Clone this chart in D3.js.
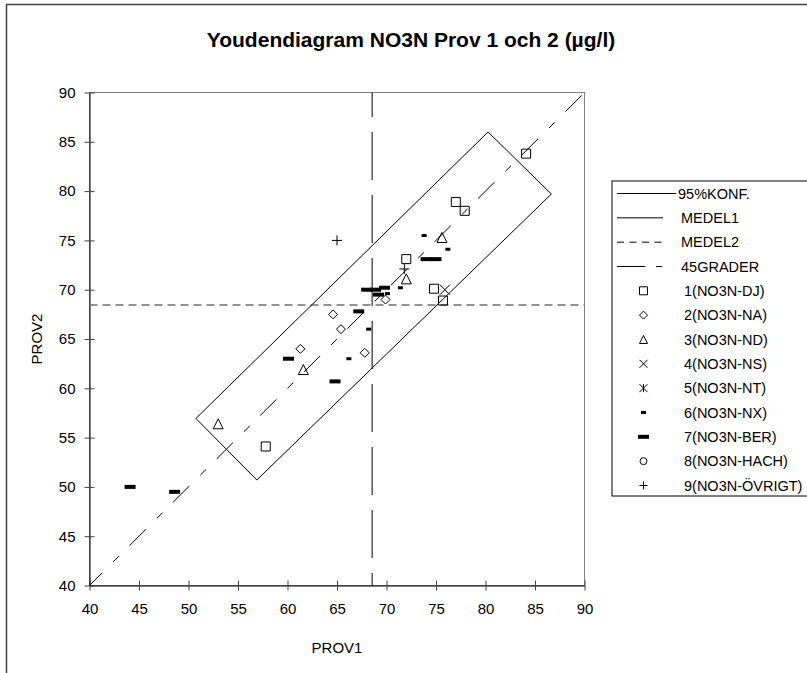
<!DOCTYPE html>
<html>
<head>
<meta charset="utf-8">
<script src="https://cdn.jsdelivr.net/npm/d3@7"></script>
<style>
  html, body { margin: 0; padding: 0; background: #fff; }
  svg { display: block; }
  text { font-family: Arial, "Liberation Sans", sans-serif; fill: #000; }
</style>
</head>
<body>
<svg id="chart" width="807" height="673"></svg>
<script>
// ---- data -------------------------------------------------------------
const xTicks = [40, 45, 50, 55, 60, 65, 70, 75, 80, 85, 90];
const yTicks = [40, 45, 50, 55, 60, 65, 70, 75, 80, 85, 90];

const medel1 = 68.55;   // mean of PROV1
const medel2 = 68.45;   // mean of PROV2
const line45 = [[40, 40], [90, 90]];
// 95 % confidence box corners (PROV1, PROV2)
const konf = [[56.9, 50.7], [86.65, 79.7], [80.26, 86.0], [50.75, 56.94], [56.9, 50.7]];

const dj   = [[84.1, 83.8], [77.0, 78.9], [77.9, 78.0], [72.0, 73.1], [74.8, 70.1], [75.7, 68.9], [57.8, 54.1]];
const na   = [[69.9, 69.0], [64.6, 67.5], [65.4, 66.0], [61.3, 64.0], [67.8, 63.6]];
const nd   = [[53.0, 56.4], [61.6, 61.9], [75.6, 75.3], [72.0, 71.1]];
const ns   = [[75.9, 70.0]];
const nt   = [];
const nx   = [[73.8, 75.5], [76.2, 74.1], [71.4, 70.2], [68.2, 66.0], [66.2, 63.0], [70.1, 69.6]];
const ber  = [[74.0, 73.1], [75.0, 73.1], [68.0, 70.0], [68.9, 70.0], [69.8, 70.2], [69.2, 69.5],
              [67.2, 67.8], [60.1, 63.0], [64.8, 60.7], [44.1, 50.0], [48.6, 49.5]];
const hach = [];
const ovrigt = [[65.0, 75.0], [71.8, 72.1]];

const legendLabels = ["95%KONF.", "MEDEL1", "MEDEL2", "45GRADER",
  "1(NO3N-DJ)", "2(NO3N-NA)", "3(NO3N-ND)", "4(NO3N-NS)", "5(NO3N-NT)",
  "6(NO3N-NX)", "7(NO3N-BER)", "8(NO3N-HACH)", "9(NO3N-ÖVRIGT)"];

// ---- layout -----------------------------------------------------------
const svg = d3.select("#chart");
const x = d3.scaleLinear().domain([40, 90]).range([89.5, 584.5]);
const y = d3.scaleLinear().domain([40, 90]).range([585.5, 92.5]);

// outer chart frame
svg.append("rect").attr("x", 6.5).attr("y", 4.5).attr("width", 820).attr("height", 700)
  .attr("fill", "none").attr("stroke", "#404040").attr("stroke-width", 1.5);

// title
svg.append("text").attr("x", 411).attr("y", 47).attr("text-anchor", "middle")
  .style("font-size", "21px").style("font-weight", "bold")
  .text("Youdendiagram NO3N Prov 1 och 2 (µg/l)");

// plot area border
svg.append("rect").attr("x", x(40)).attr("y", y(90))
  .attr("width", x(90) - x(40)).attr("height", y(40) - y(90))
  .attr("fill", "none").attr("stroke", "#808080").attr("stroke-width", 1);

// axes
const xAxis = d3.axisBottom(x).tickValues(xTicks).tickSize(0).tickPadding(18).tickFormat(d3.format("d"));
const yAxis = d3.axisLeft(y).tickValues(yTicks).tickSize(0).tickPadding(14).tickFormat(d3.format("d"));
const gx = svg.append("g").attr("transform", `translate(0,${y(40)})`).call(xAxis);
const gy = svg.append("g").attr("transform", `translate(${x(40)},0)`).call(yAxis);
[gx, gy].forEach(g => {
  g.select(".domain").attr("stroke", "#000");
  g.selectAll("text").style("font-size", "15px").style("font-family", "Arial, 'Liberation Sans', sans-serif");
});
// cross tick marks
gx.selectAll(".tick").append("line").attr("y1", -5).attr("y2", 5).attr("stroke", "#444");
gy.selectAll(".tick").append("line").attr("x1", -5).attr("x2", 5).attr("stroke", "#444");

svg.append("text").attr("x", x(65)).attr("y", 653).attr("text-anchor", "middle")
  .style("font-size", "15px").text("PROV1");
svg.append("text").attr("transform", `translate(42,${y(65)}) rotate(-90)`).attr("text-anchor", "middle")
  .style("font-size", "15px").text("PROV2");

// reference lines
const line = d3.line().x(d => x(d[0])).y(d => y(d[1]));
const plot = svg.append("g");
plot.append("path").datum(line45).attr("d", line).attr("fill", "none")
  .attr("stroke", "#000").attr("stroke-width", 1)
  .attr("stroke-dasharray", "23,15.5,8,15").attr("stroke-dashoffset", 5);
plot.append("line").attr("x1", x(medel1)).attr("x2", x(medel1)).attr("y1", y(90)).attr("y2", y(40))
  .attr("stroke", "#000").attr("stroke-width", 1)
  .attr("stroke-dasharray", "48,15").attr("stroke-dashoffset", 23.5);
plot.append("line").attr("x1", x(40)).attr("x2", x(90)).attr("y1", y(medel2)).attr("y2", y(medel2))
  .attr("stroke", "#707070").attr("stroke-width", 1.5).attr("stroke-dasharray", "8,5");
plot.append("path").datum(konf).attr("d", line).attr("fill", "none")
  .attr("stroke", "#000").attr("stroke-width", 1);

// marker shapes
const shapes = {
  square:   s => `M${-s/2},${-s/2}h${s}v${s}h${-s}Z`,
  diamond:  s => `M0,${-s/2}L${s/2},0L0,${s/2}L${-s/2},0Z`,
  triangle: s => `M0,${-s/2}L${s/2},${s/2}L${-s/2},${s/2}Z`,
  cross:    s => `M${-s/2},${-s/2}L${s/2},${s/2}M${s/2},${-s/2}L${-s/2},${s/2}`,
  star:     s => `M${-s/2},${-s/2}L${s/2},${s/2}M${s/2},${-s/2}L${-s/2},${s/2}M0,${-s/2}V${s/2}`,
  plus:     s => `M${-s/2},0H${s/2}M0,${-s/2}V${s/2}`,
  circle:   s => `M${s/2},0A${s/2},${s/2} 0 1 1 ${-s/2},0A${s/2},${s/2} 0 1 1 ${s/2},0Z`,
  dashS:    s => `M-2.5,-1.5h5v3h-5Z`,
  dashL:    s => `M-5.5,-2h11v4h-11Z`
};
const series = [
  { data: dj,     shape: "square",   size: 9,  legSize: 8 },
  { data: na,     shape: "diamond",  size: 9,  legSize: 8 },
  { data: nd,     shape: "triangle", size: 10, legSize: 8 },
  { data: ns,     shape: "cross",    size: 10, legSize: 8 },
  { data: nt,     shape: "star",     size: 10, legSize: 8 },
  { data: nx,     shape: "dashS",    size: 5,  legSize: 5 },
  { data: ber,    shape: "dashL",    size: 11, legSize: 10 },
  { data: hach,   shape: "circle",   size: 8,  legSize: 7 },
  { data: ovrigt, shape: "plus",     size: 10, legSize: 8 }
];
function styleMarker(sel, shape) {
  const filled = shape.startsWith("dash");
  sel.attr("fill", filled ? "#000" : "none")
     .attr("stroke", filled ? "none" : "#000")
     .attr("stroke-width", 1);
}
series.forEach(s => {
  plot.append("g").selectAll("path").data(s.data).join("path")
    .attr("transform", d => `translate(${x(d[0])},${y(d[1])})`)
    .attr("d", shapes[s.shape](s.size))
    .call(styleMarker, s.shape);
});

// legend
const lg = svg.append("g");
lg.append("rect").attr("x", 612).attr("y", 181).attr("width", 220).attr("height", 315)
  .attr("fill", "#fff").attr("stroke", "#000").attr("stroke-width", 1);
const rowY = i => 193.5 + i * 24.33;
const lineRows = [
  { dash: null, x2: 676, tx: 678 },
  { dash: null, x2: 663, tx: 681 },
  { dash: "7,5.5", x2: 663, tx: 681 },
  { dash: "28,11,6,40", x2: 663, tx: 681 }
];
lineRows.forEach((r, i) => {
  lg.append("line").attr("x1", 617).attr("x2", r.x2).attr("y1", rowY(i)).attr("y2", rowY(i))
    .attr("stroke", "#000").attr("stroke-dasharray", r.dash);
});
series.forEach((s, i) => {
  lg.append("path").attr("transform", `translate(643.5,${rowY(i + 4)})`)
    .attr("d", shapes[s.shape](s.legSize)).call(styleMarker, s.shape);
});
lg.selectAll("text").data(legendLabels).join("text")
  .attr("x", (d, i) => i < 4 ? lineRows[i].tx : 684)
  .attr("y", (d, i) => rowY(i)).attr("dy", "0.36em")
  .style("font-size", "14.5px").text(d => d);
</script>
</body>
</html>
